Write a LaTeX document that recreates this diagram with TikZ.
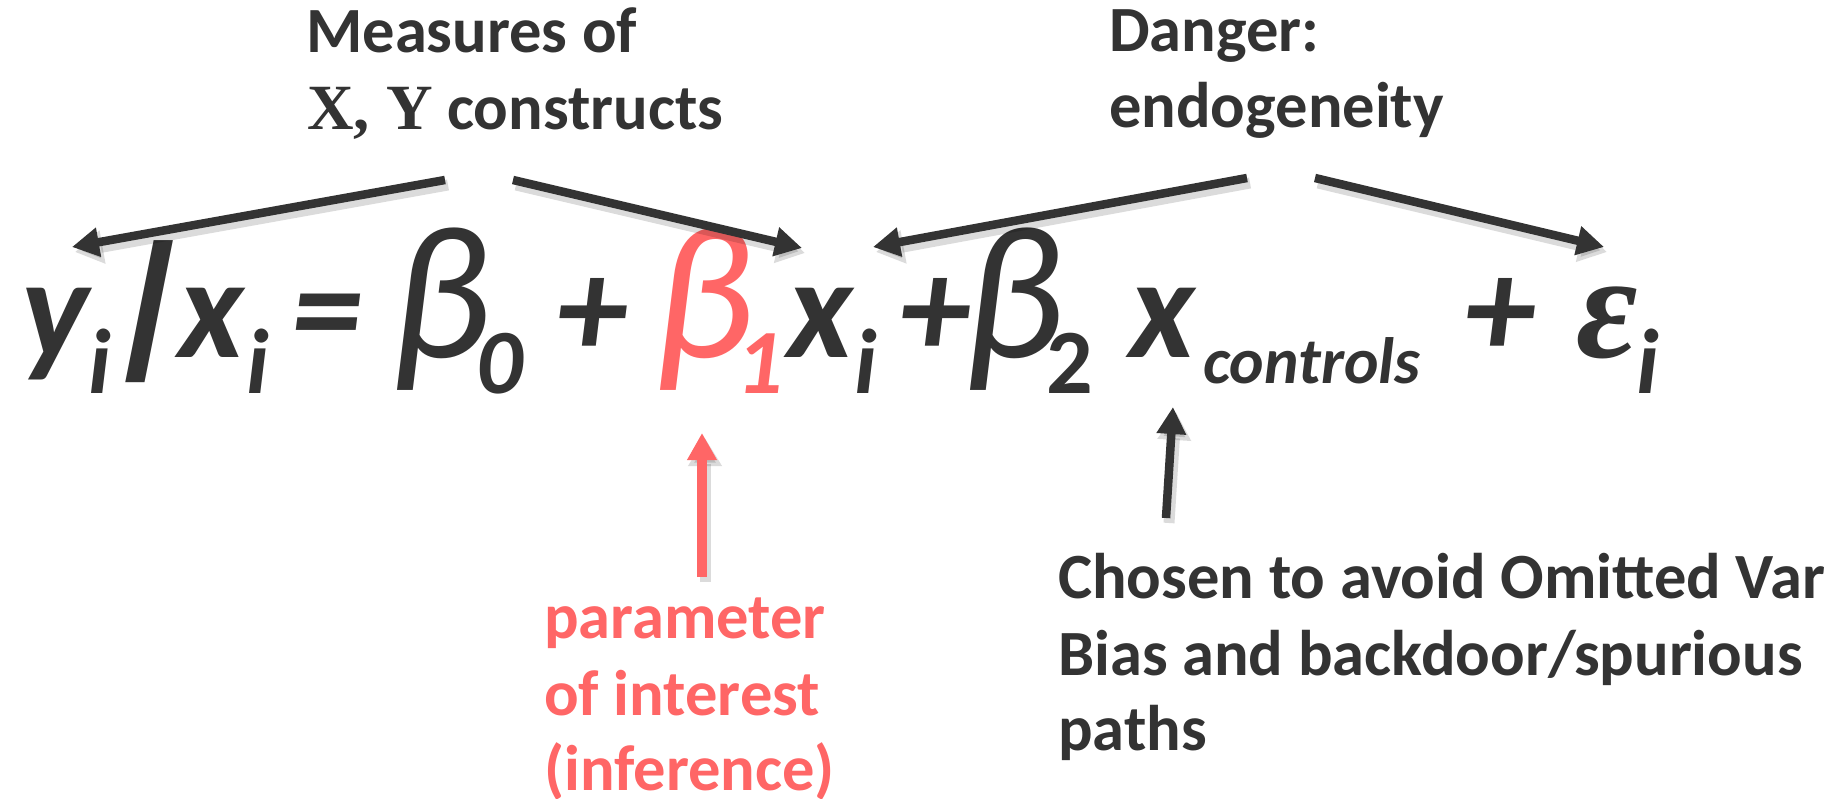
\documentclass[tikz,border=0pt]{standalone}
\usepackage{fontspec}
\setmainfont{Carlito}
\newfontfamily\serifX{Liberation Serif}
\usetikzlibrary{arrows.meta}
\definecolor{ink}{RGB}{51,51,51}
\definecolor{redink}{RGB}{255,102,102}
\begin{document}
\begin{tikzpicture}[x=1pt,y=-1pt,
  lbl/.style={anchor=base west, inner sep=0pt, font=\fontsize{64.5}{76}\selectfont\bfseries, text=ink},
  glyph/.style={anchor=base, inner sep=0pt, text=ink, font=\fontsize{143}{150}\selectfont\bfseries\itshape},
  betag/.style={anchor=base, inner sep=0pt, text=ink, font=\fontsize{190}{200}\selectfont\itshape},
  epsg/.style={anchor=base, inner sep=0pt, text=ink, font=\fontsize{150}{160}\selectfont\serifX\bfseries\itshape},
  subg/.style={anchor=base, inner sep=0pt, text=ink, font=\fontsize{92}{100}\selectfont\bfseries\itshape},
  subup/.style={anchor=base, inner sep=0pt, text=ink, font=\fontsize{92}{100}\selectfont\bfseries},
  ctrl/.style={anchor=base, inner sep=0pt, text=ink, font=\fontsize{65.5}{70}\selectfont\bfseries\itshape},
  arr/.style={draw=ink, line width=8.5pt, -{Triangle[length=27pt,width=28pt]}},
  redarr/.style={draw=redink, line width=10pt, -{Triangle[length=27pt,width=28pt]}},
  shdw/.style={draw=black, opacity=0.14, line width=11pt, -{Triangle[length=28pt,width=32pt]}, transform canvas={shift={(3pt,-5pt)}}},
]
\useasboundingbox (0,0) rectangle (1835,799);
\fill[white] (0,0) rectangle (1835,799);

% labels
\node[lbl] (m1) at (306,53) {Measures of};
\node[lbl] (m2) at (307,130) {{\serifX X, Y} constructs};
\node[lbl] (d1) at (1109,52) {Danger:};
\node[lbl] (d2) at (1109,128) {endogeneity};
\node[lbl, text=redink] (p1) at (544,638) {parameter};
\node[lbl, text=redink] (p2) at (544,715) {of interest};
\node[lbl, text=redink] (p3) at (544,790) {(inference)};
\node[lbl] (c1) at (1058,598) {Chosen to avoid Omitted Var};
\node[lbl] (c2) at (1058,675) {Bias and backdoor/spurious};
\node[lbl] (c3) at (1058,750) {paths};

% equation
\node[glyph] (ey) at (55,357) {y};
\node[subg] (eyi) at (100,393) {i};
\node[glyph, xslant=0.2, yscale=1.12, xscale=1.4] (ebar) at (146,357) {|};
\node[glyph] (ex) at (211,357) {x};
\node[subg] (exi) at (258,393) {i};
\node[glyph] (eeq) at (327,357) {=};
\node[betag] (eb0) at (441,357) {β};
\node[subg] (e0) at (500,393) {0};
\node[glyph] (ep1) at (592,357) {+};
\node[betag, text=redink] (eb1) at (704,357) {β};
\node[subg, text=redink] (e1) at (760,393) {1};
\node[glyph] (ex1) at (820,357) {x};
\node[subg] (ex1i) at (866,393) {i};
\node[glyph] (ep2) at (935,357) {+};
\node[betag] (eb2) at (1014,357) {β};
\node[subup] (e2) at (1070,393) {2};
\node[glyph] (exc) at (1162,357) {x};
\node[ctrl] (ectrl) at (1312,383) {controls};
\node[glyph] (ep3) at (1500,357) {+};
\node[epsg] (eeps) at (1607,357) {ε};
\node[subg] (eepsi) at (1648,393) {i};

% arrow end points
\coordinate (a1s) at (445,180); \coordinate (a1e) at (72,247);
\coordinate (a2s) at (513,180); \coordinate (a2e) at (802,248);
\coordinate (a3s) at (1247,178); \coordinate (a3e) at (873,247);
\coordinate (a4s) at (1315,178); \coordinate (a4e) at (1604,247);
\coordinate (rs) at (702,577); \coordinate (re) at (702,433);
\coordinate (bs) at (1166,518); \coordinate (be) at (1173,407);

\foreach \s/\e in {a1s/a1e,a2s/a2e,a3s/a3e,a4s/a4e,rs/re,bs/be}
  \draw[shdw] (\s) -- (\e);
\draw[arr] (a1s) -- (a1e);
\draw[arr] (a2s) -- (a2e);
\draw[arr] (a3s) -- (a3e);
\draw[arr] (a4s) -- (a4e);
\draw[redarr] (rs) -- (re);
\draw[arr] (bs) -- (be);
\end{tikzpicture}
\end{document}
